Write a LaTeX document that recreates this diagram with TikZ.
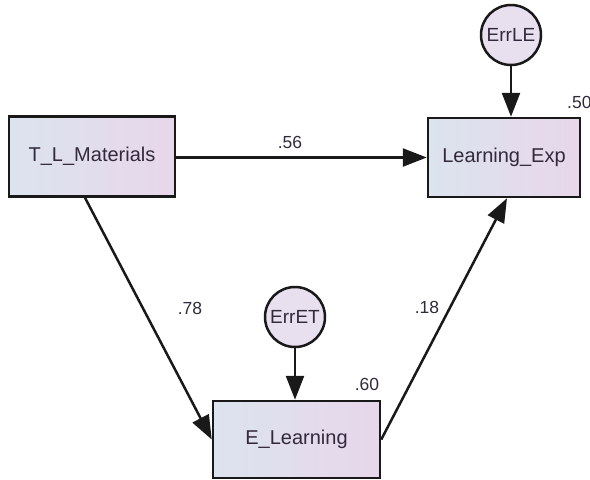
\documentclass[tikz,border=0pt]{standalone}
\usepackage{fontspec}
\setmainfont{Liberation Sans}
\usetikzlibrary{arrows.meta}
\definecolor{boxL}{RGB}{220,228,238}
\definecolor{boxR}{RGB}{232,214,235}
\definecolor{errfill}{RGB}{232,224,238}
\definecolor{txt}{RGB}{50,42,60}
\definecolor{edge}{RGB}{25,25,25}
\tikzset{
  varbox/.style={draw=edge, line width=2.5pt, left color=boxL, right color=boxR,
    inner sep=0pt, text=txt, font=\fontsize{20}{20}\selectfont},
  errcirc/.style={draw=edge, line width=2.5pt, circle, fill=errfill, inner sep=0pt,
    minimum size=60pt, text=txt, font=\fontsize{19}{19}\selectfont},
  path/.style={draw=edge, line width=2.5pt, -{Triangle[length=24pt,width=18pt]}},
  coef/.style={text=txt, font=\fontsize{17.5}{17.5}\selectfont, inner sep=0pt}
}
\begin{document}
\begin{tikzpicture}[x=1pt,y=-1pt]
\useasboundingbox (0,0) rectangle (590,480);
\node[varbox, minimum width=166pt, minimum height=80pt] (TL) at (92,156.5) {T\_L\_Materials};
\node[varbox, minimum width=152pt, minimum height=79pt] (LE) at (504,157.5) {Learning\_Exp};
\node[varbox, minimum width=167pt, minimum height=77pt] (EL) at (296.5,439.5) {E\_Learning};
\node[errcirc] (ErrLE) at (511,35) {ErrLE};
\node[errcirc] (ErrET) at (295,317) {ErrET};

\draw[path] (TL.east |- LE.west) -- (LE.west);
\draw[path] ([xshift=-7pt]TL.south) -- (EL.west);
\draw[path] (EL.east) -- ([xshift=3pt]LE.south);
\draw[path] (ErrLE) -- (ErrLE |- LE.north);
\draw[path] (ErrET) -- (ErrET |- EL.north);

\node[coef] (c56) at (290,142) {.56};
\node[coef] (c78) at (190,308) {.78};
\node[coef] (c18) at (427,307) {.18};
\node[coef] (c60) at (367,384) {.60};
\node[coef, anchor=west] (c50) at (567,102) {.50};
\end{tikzpicture}
\end{document}
